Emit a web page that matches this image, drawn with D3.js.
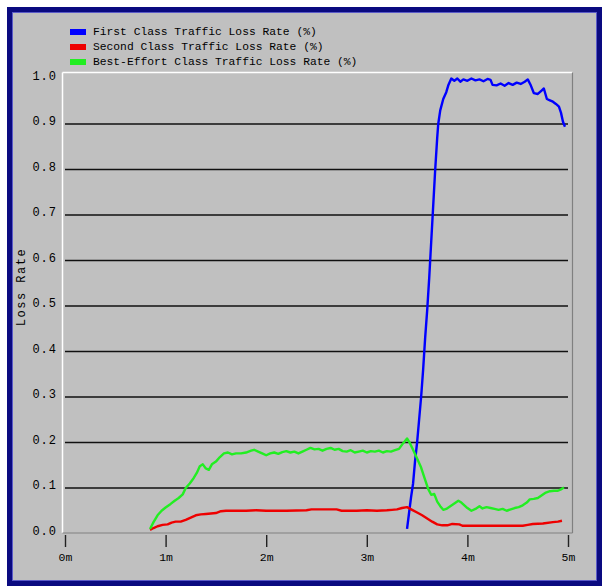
<!DOCTYPE html>
<html>
<head>
<meta charset="utf-8">
<script src="https://cdn.jsdelivr.net/npm/d3@7"></script>
<style>
  html, body { margin: 0; padding: 0; background: #ffffff; }
  svg { display: block; }
  text { font-family: "Liberation Mono", "DejaVu Sans Mono", monospace; fill: #000; }
</style>
</head>
<body>
<svg id="chart" width="602" height="586"></svg>
<script>
// ---------- data ----------
const seriesNames = [
  "First Class Traffic Loss Rate (%)",
  "Second Class Traffic Loss Rate (%)",
  "Best-Effort Class Traffic Loss Rate (%)"
];
const xTicks = [0, 1, 2, 3, 4, 5];
const yTicks = [0, 0.1, 0.2, 0.3, 0.4, 0.5, 0.6, 0.7, 0.8, 0.9, 1.0];
const yGrid = [0.1, 0.2, 0.3, 0.4, 0.5, 0.6, 0.7, 0.8, 0.9];

// [minute, loss rate]
const firstClass = [
  [3.40,0.010],[3.42,0.045],[3.44,0.080],[3.46,0.110],[3.48,0.160],[3.50,0.200],
  [3.52,0.250],[3.54,0.300],[3.56,0.360],[3.58,0.430],[3.60,0.490],[3.62,0.560],
  [3.64,0.640],[3.66,0.720],[3.68,0.800],[3.70,0.870],[3.71,0.900],[3.73,0.930],
  [3.76,0.955],[3.79,0.970],[3.81,0.985],[3.84,1.000],[3.87,0.995],[3.90,1.000],
  [3.93,0.993],[3.96,0.998],[4.00,0.995],[4.04,1.000],[4.08,0.996],[4.12,0.998],
  [4.16,0.994],[4.20,0.999],[4.23,0.997],[4.25,0.986],[4.29,0.985],[4.33,0.989],
  [4.37,0.984],[4.41,0.990],[4.45,0.986],[4.49,0.991],[4.53,0.988],[4.57,0.993],
  [4.60,0.998],[4.63,0.985],[4.66,0.968],[4.70,0.966],[4.74,0.974],[4.76,0.978],
  [4.79,0.955],[4.82,0.952],[4.85,0.949],[4.88,0.944],[4.91,0.938],[4.93,0.925],
  [4.95,0.905],[4.97,0.894]
];
const secondClass = [
  [0.845,0.008],[0.88,0.012],[0.92,0.016],[0.97,0.019],[1.02,0.020],[1.06,0.024],
  [1.10,0.026],[1.15,0.026],[1.20,0.030],[1.25,0.035],[1.30,0.040],[1.35,0.042],
  [1.40,0.043],[1.45,0.044],[1.50,0.045],[1.55,0.049],[1.60,0.050],[1.80,0.050],
  [1.90,0.051],[2.00,0.050],[2.20,0.050],[2.40,0.051],[2.45,0.053],[2.60,0.053],
  [2.70,0.053],[2.75,0.050],[2.90,0.050],[3.00,0.051],[3.10,0.050],[3.20,0.051],
  [3.25,0.052],[3.30,0.053],[3.35,0.056],[3.40,0.058],[3.45,0.052],[3.50,0.046],
  [3.55,0.040],[3.60,0.033],[3.65,0.026],[3.70,0.020],[3.75,0.018],[3.80,0.018],
  [3.85,0.021],[3.92,0.020],[3.95,0.017],[4.10,0.017],[4.30,0.017],[4.55,0.017],
  [4.60,0.019],[4.65,0.021],[4.75,0.022],[4.85,0.025],[4.90,0.026],[4.94,0.028]
];
const bestEffort = [
  [0.845,0.010],[0.88,0.025],[0.92,0.040],[0.96,0.050],[1.00,0.057],[1.05,0.065],
  [1.09,0.072],[1.13,0.078],[1.17,0.086],[1.20,0.100],[1.24,0.110],[1.28,0.122],
  [1.31,0.133],[1.34,0.148],[1.37,0.152],[1.40,0.143],[1.43,0.140],[1.46,0.152],
  [1.50,0.158],[1.54,0.168],[1.58,0.176],[1.62,0.178],[1.66,0.174],[1.70,0.176],
  [1.75,0.176],[1.80,0.178],[1.85,0.182],[1.88,0.184],[1.92,0.180],[1.96,0.176],
  [2.00,0.172],[2.04,0.176],[2.08,0.178],[2.12,0.175],[2.16,0.179],[2.20,0.181],
  [2.24,0.178],[2.28,0.180],[2.32,0.176],[2.36,0.180],[2.40,0.184],[2.44,0.188],
  [2.48,0.185],[2.52,0.186],[2.56,0.182],[2.60,0.186],[2.64,0.188],[2.68,0.184],
  [2.72,0.186],[2.76,0.181],[2.80,0.180],[2.84,0.183],[2.88,0.178],[2.92,0.180],
  [2.96,0.182],[3.00,0.178],[3.04,0.181],[3.08,0.180],[3.12,0.182],[3.16,0.178],
  [3.20,0.181],[3.24,0.180],[3.28,0.183],[3.32,0.186],[3.36,0.198],[3.40,0.209],
  [3.43,0.198],[3.46,0.184],[3.50,0.165],[3.54,0.145],[3.58,0.118],[3.61,0.098],
  [3.64,0.085],[3.67,0.087],[3.70,0.070],[3.73,0.060],[3.76,0.052],[3.79,0.054],
  [3.83,0.060],[3.87,0.066],[3.91,0.072],[3.94,0.068],[3.97,0.062],[4.00,0.056],
  [4.04,0.050],[4.08,0.054],[4.12,0.060],[4.15,0.055],[4.19,0.058],[4.23,0.056],
  [4.27,0.054],[4.31,0.052],[4.35,0.054],[4.39,0.050],[4.43,0.053],[4.47,0.056],
  [4.51,0.058],[4.55,0.062],[4.59,0.068],[4.62,0.075],[4.66,0.076],[4.70,0.078],
  [4.74,0.084],[4.78,0.090],[4.82,0.093],[4.86,0.094],[4.90,0.094],[4.93,0.097],
  [4.96,0.101]
];
const colors = ["#0000ff", "#ee0000", "#22ee22"];

// ---------- drawing ----------
const svg = d3.select("#chart");

// window frame
svg.append("rect").attr("x", 7).attr("y", 7).attr("width", 595).attr("height", 579).attr("fill", "#0a0a80");
svg.append("rect").attr("x", 12.5).attr("y", 12.5).attr("width", 584).attr("height", 568)
  .attr("fill", "#c0c0c0").attr("stroke", "#5a5ac8").attr("stroke-width", 1);

const x = d3.scaleLinear().domain([0, 5]).range([65, 568]);
const y = d3.scaleLinear().domain([0, 1]).range([533.5, 78.5]);

// plot frame (sunken look)
const pl = 62.5, pt = 72.5, pr = 572.5, pb = 533;
svg.append("line").attr("x1", pl).attr("y1", pt).attr("x2", pr).attr("y2", pt).attr("stroke", "#ffffff").attr("stroke-width", 1.5);
svg.append("line").attr("x1", pl).attr("y1", pt).attr("x2", pl).attr("y2", pb).attr("stroke", "#ffffff").attr("stroke-width", 1.5);
svg.append("line").attr("x1", pr).attr("y1", pt).attr("x2", pr).attr("y2", pb).attr("stroke", "#808080").attr("stroke-width", 1.2);
svg.append("line").attr("x1", pl).attr("y1", pb).attr("x2", pr).attr("y2", pb).attr("stroke", "#808080").attr("stroke-width", 1.2);

// gridlines
svg.append("g").selectAll("line").data(yGrid).join("line")
  .attr("x1", 65).attr("x2", 568)
  .attr("y1", d => y(d)).attr("y2", d => y(d))
  .attr("stroke", "#111").attr("stroke-width", 1.4);

// y axis labels
const yAxis = svg.append("g").attr("transform", "translate(57,-3)")
  .call(d3.axisLeft(y).tickValues(yTicks).tickSize(0).tickPadding(0).tickFormat(d3.format(".1f")));
yAxis.select(".domain").remove();
yAxis.selectAll("text").attr("font-family", "Liberation Mono, monospace").attr("font-size", 12)
  .attr("letter-spacing", 1).attr("fill", "#000");

// x axis
const xAxis = svg.append("g").attr("transform", "translate(0,535)")
  .call(d3.axisBottom(x).tickValues(xTicks).tickSize(12).tickPadding(6).tickFormat(d => d + "m"));
xAxis.select(".domain").remove();
xAxis.selectAll("line").attr("stroke", "#222").attr("stroke-width", 1.4);
xAxis.selectAll("text").attr("font-family", "Liberation Mono, monospace").attr("font-size", 11.5).attr("fill", "#000");

// y title
svg.append("text").attr("transform", "translate(25,287) rotate(-90)")
  .attr("text-anchor", "middle").attr("font-size", 12).attr("letter-spacing", 1.5)
  .text("Loss Rate");

// series lines
const line = d3.line().x(d => x(d[0])).y(d => y(d[1]));
[firstClass, secondClass, bestEffort].forEach((s, i) => {
  svg.append("path").datum(s).attr("d", line)
    .attr("fill", "none").attr("stroke", colors[i]).attr("stroke-width", 2.4)
    .attr("stroke-linejoin", "round");
});

// legend
const lg = svg.append("g");
seriesNames.forEach((n, i) => {
  const cy = 32 + i * 15;
  lg.append("rect").attr("x", 70).attr("y", cy - 3).attr("width", 16).attr("height", 6).attr("fill", colors[i]);
  lg.append("text").attr("x", 93).attr("y", cy).attr("dominant-baseline", "central")
    .attr("font-size", 11.3).text(n);
});
</script>
</body>
</html>
